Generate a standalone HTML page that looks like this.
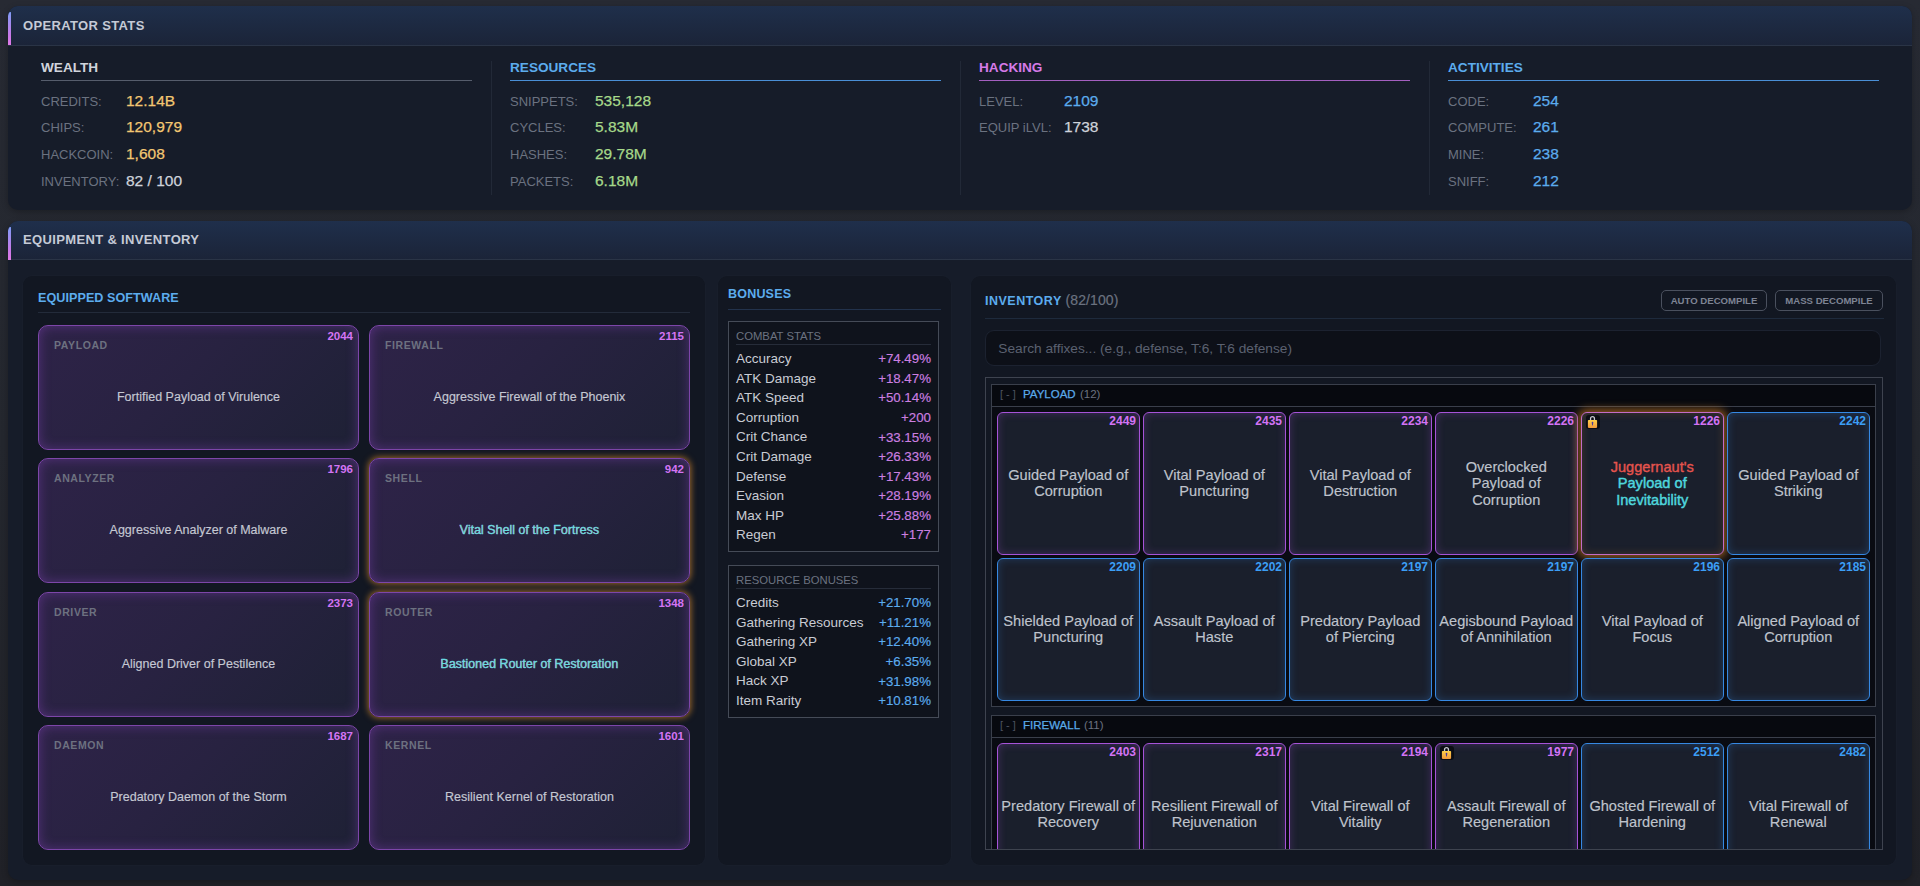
<!DOCTYPE html>
<html><head><meta charset="utf-8">
<style>
*{box-sizing:border-box;margin:0;padding:0}
html,body{width:1920px;height:886px;overflow:hidden}
body{background:linear-gradient(180deg,#272a33 0%,#24272e 50%,#202127 100%);font-family:"Liberation Sans",Arial,sans-serif;color:#c5c9d3;position:relative}
.panel{position:absolute;left:8px;width:1904px;background:#161c29;box-shadow:0 2px 6px rgba(0,0,0,0.25);border-radius:10px;overflow:hidden}
.p1{top:6px;height:204px}
.p2{top:221px;height:659px}
.ph{position:absolute;left:0;top:0;width:100%;height:39px;background:linear-gradient(180deg,#1f2f4b 0%,#1b2438 100%);border-bottom:1px solid #2a3446}
.ph .acc{position:absolute;left:0;top:6px;width:3px;height:33px;background:linear-gradient(180deg,#7f9cf5,#c879e8 70%,#e07ae8);border-radius:3px 0 0 0}
.ph .t{position:absolute;left:15px;top:11.2px;font-size:13px;font-weight:bold;letter-spacing:0.35px;color:#c5cad6;white-space:nowrap}
/* stats grid */
.sg{position:absolute;left:14px;top:39px;width:1876px;height:165px;display:flex}
.sc{width:469px;padding:0 19px;height:100%;position:relative}
.sc+.sc::before{content:"";position:absolute;left:0;top:16px;height:134px;width:1px;background:#222937}
.sc h3{position:absolute;left:19px;right:19px;top:15.3px;font-size:13.6px;font-weight:bold;height:20.5px;border-bottom:1px solid #4c5364;white-space:nowrap}
.sc .r{position:absolute;left:19px;font-size:13px;color:#6b7280;white-space:nowrap;display:flex;align-items:baseline;height:20px}
.sc .r i{font-style:normal;width:85px;display:inline-block}
.sc .r b{font-weight:normal;font-size:15.5px;letter-spacing:0px;-webkit-text-stroke:0.25px currentColor}

/* panel 2 sections */
.sec{position:absolute;top:55px;height:589px;background:#121722;border-radius:9px;box-shadow:0 0 0 1px rgba(255,255,255,0.012)}
.eq{left:15px;width:682px}
.bo{left:710px;width:233px}
.inv{left:963px;width:925px}
.stitle{position:absolute;font-size:13.5px;font-weight:bold;letter-spacing:0.8px;color:#5cacee;white-space:nowrap}
.sdiv{position:absolute;height:1px;background:#232b3a}
/* equipped cards */
.ec{position:absolute;width:321px;height:124.5px;border-radius:10px;border:1px solid #7d46a9;
 background:linear-gradient(135deg,#2e2348 0%,#282241 45%,#1e2135 100%);
 box-shadow:inset 0 0 12px rgba(155,75,215,0.36)}
.ec.gold{box-shadow:0 0 6px 1px rgba(235,150,45,0.62),inset 0 0 12px rgba(155,75,215,0.36)}
.ec .lb{position:absolute;left:15px;top:13px;font-size:10.5px;font-weight:bold;letter-spacing:0.6px;color:#6d7180}
.ec .nm{position:absolute;right:5px;top:4px;font-size:11.5px;font-weight:bold;color:#d374f4}
.ec .n{position:absolute;left:0;right:0;top:64px;text-align:center;font-size:12.5px;color:#c5c8d3;white-space:nowrap;-webkit-text-stroke:0.15px currentColor}
.ec .n.cy{color:#62dce3;-webkit-text-stroke:0.3px #62dce3;text-shadow:-0.7px 0 rgba(235,80,90,0.75)}
/* bonuses */
.bbox{position:absolute;left:10px;width:211px;border:1px solid #454b57;background:#0f131c}
.bbox .bt{position:absolute;left:7px;top:8px;font-size:11.3px;color:#6b7280;white-space:nowrap}
.bbox .bd{position:absolute;left:7px;right:7px;top:22px;height:1px;background:#262c39}
.bbox .row{position:absolute;left:7px;right:7px;height:18px;font-size:13.5px;color:#c9ccd4;white-space:nowrap}
.bbox .row span{position:absolute;right:0;top:0.2px;font-size:13.3px;-webkit-text-stroke:0.15px currentColor}
/* inventory */
.btn{position:absolute;top:14px;height:20.6px;border:1px solid #4a505e;border-radius:5px;font-size:9.6px;font-weight:bold;color:#7e8494;text-align:center;line-height:20px;white-space:nowrap}
.search{position:absolute;left:14px;top:54px;width:896px;height:36px;border-radius:9px;background:#0d1018;border:1.5px solid #1c2230}
.search span{position:absolute;left:12.3px;top:9.5px;font-size:13.7px;color:#5b6170;white-space:nowrap}
.scroll{position:absolute;left:14px;top:101px;width:898px;height:473px;border:1px solid #3e434f;overflow:hidden;background:#121722}
.grp{position:absolute;left:5px;width:885px;border:1px solid #3a3f4b;background:#090b12}
.gh{position:absolute;left:0;top:0;right:0;height:22px;background:#07090f;border-bottom:1px solid #3a3f4b;font-size:12px;white-space:nowrap}
.gh .br{position:absolute;left:8px;top:3px;color:#4d5361;font-size:11px}
.gh .gn{position:absolute;left:31px;top:3px;color:#5aa9e9;font-size:11.5px;-webkit-text-stroke:0.25px #5aa9e9}
.gh .gc{position:absolute;top:3px;color:#6b7280;font-size:11.5px}
.ic{position:absolute;width:142.5px;height:142.5px;border-radius:6px;border:1.5px solid #a653d8;background:#1a1f2c;
 box-shadow:inset 0 0 9px rgba(160,78,208,0.30)}
.ic.bl{border-color:#3688e2;box-shadow:inset 0 0 9px rgba(54,136,226,0.28)}
.ic.og{box-shadow:0 0 8px 3px rgba(225,135,35,0.6),inset 0 0 9px rgba(225,135,35,0.22);border-color:#c26cc6}
.ic .nm{position:absolute;right:2.5px;top:0.7px;font-size:12px;font-weight:bold;color:#d373f5}
.ic.bl .nm{color:#3c9ef5}
.ic .n{position:absolute;left:0;right:0;top:0;bottom:0;display:flex;align-items:center;justify-content:center;text-align:center;font-size:14.6px;line-height:16.5px;color:#bfc3cc;padding:0 1px;-webkit-text-stroke:0.15px currentColor}
.lock{position:absolute;left:3.8px;top:2.4px;width:14px;height:14px}
.p1 .ph{height:40px}
.p1 .ph .t{top:11.8px}
</style></head>
<body>
<div class="panel p1">
  <div class="ph"><div class="acc"></div><div class="t">OPERATOR STATS</div></div>
  <div class="sg">
    <div class="sc">
      <h3 style="color:#d0d4dc;border-color:#565d6c">WEALTH</h3>
      <div class="r" style="top:46.5px"><i>CREDITS:</i><b style="color:#f3c772">12.14B</b></div>
      <div class="r" style="top:72.5px"><i>CHIPS:</i><b style="color:#f3c772">120,979</b></div>
      <div class="r" style="top:99.5px"><i>HACKCOIN:</i><b style="color:#f3c772">1,608</b></div>
      <div class="r" style="top:126.5px"><i>INVENTORY:</i><b style="color:#cfd3db">82 / 100</b></div>
    </div>
    <div class="sc">
      <h3 style="color:#5cacee;border-color:#4a8fd6">RESOURCES</h3>
      <div class="r" style="top:46.5px"><i>SNIPPETS:</i><b style="color:#a6d98a">535,128</b></div>
      <div class="r" style="top:72.5px"><i>CYCLES:</i><b style="color:#a6d98a">5.83M</b></div>
      <div class="r" style="top:99.5px"><i>HASHES:</i><b style="color:#a6d98a">29.78M</b></div>
      <div class="r" style="top:126.5px"><i>PACKETS:</i><b style="color:#a6d98a">6.18M</b></div>
    </div>
    <div class="sc">
      <h3 style="color:#d67ae8;border-color:#a45fc0">HACKING</h3>
      <div class="r" style="top:46.5px"><i>LEVEL:</i><b style="color:#5cacee">2109</b></div>
      <div class="r" style="top:72.5px"><i>EQUIP iLVL:</i><b style="color:#cfd3db">1738</b></div>
    </div>
    <div class="sc">
      <h3 style="color:#5cacee;border-color:#4a8fd6">ACTIVITIES</h3>
      <div class="r" style="top:46.5px"><i>CODE:</i><b style="color:#5cacee">254</b></div>
      <div class="r" style="top:72.5px"><i>COMPUTE:</i><b style="color:#5cacee">261</b></div>
      <div class="r" style="top:99.5px"><i>MINE:</i><b style="color:#5cacee">238</b></div>
      <div class="r" style="top:126.5px"><i>SNIFF:</i><b style="color:#5cacee">212</b></div>
    </div>
  </div>
</div>

<div class="panel p2">
  <div class="ph"><div class="acc"></div><div class="t">EQUIPMENT &amp; INVENTORY</div></div>
<div class="sec eq"><div class="stitle" style="left:15px;top:14.5px;font-size:12.6px;letter-spacing:0.05px">EQUIPPED SOFTWARE</div><div class="sdiv" style="left:15px;right:15px;top:36px"></div><div class="ec" style="left:15px;top:49px"><div class="lb">PAYLOAD</div><div class="nm">2044</div><div class="n">Fortified Payload of Virulence</div></div><div class="ec" style="left:346px;top:49px"><div class="lb">FIREWALL</div><div class="nm">2115</div><div class="n">Aggressive Firewall of the Phoenix</div></div><div class="ec" style="left:15px;top:182px"><div class="lb">ANALYZER</div><div class="nm">1796</div><div class="n">Aggressive Analyzer of Malware</div></div><div class="ec gold" style="left:346px;top:182px"><div class="lb">SHELL</div><div class="nm">942</div><div class="n cy">Vital Shell of the Fortress</div></div><div class="ec" style="left:15px;top:316px"><div class="lb">DRIVER</div><div class="nm">2373</div><div class="n">Aligned Driver of Pestilence</div></div><div class="ec gold" style="left:346px;top:316px"><div class="lb">ROUTER</div><div class="nm">1348</div><div class="n cy">Bastioned Router of Restoration</div></div><div class="ec" style="left:15px;top:449px"><div class="lb">DAEMON</div><div class="nm">1687</div><div class="n">Predatory Daemon of the Storm</div></div><div class="ec" style="left:346px;top:449px"><div class="lb">KERNEL</div><div class="nm">1601</div><div class="n">Resilient Kernel of Restoration</div></div></div>
<div class="sec bo"><div class="stitle" style="left:10px;top:11px;font-size:12.5px;letter-spacing:0.2px">BONUSES</div><div class="sdiv" style="left:10px;right:10px;top:33px;background:#22324c"></div><div class="bbox" style="top:45px;height:231px"><div class="bt">COMBAT STATS</div><div class="bd"></div><div class="row" style="top:29.2px">Accuracy<span style="color:#cc7fe0">+74.49%</span></div><div class="row" style="top:48.7px">ATK Damage<span style="color:#cc7fe0">+18.47%</span></div><div class="row" style="top:68.3px">ATK Speed<span style="color:#cc7fe0">+50.14%</span></div><div class="row" style="top:87.9px">Corruption<span style="color:#cc7fe0">+200</span></div><div class="row" style="top:107.4px">Crit Chance<span style="color:#cc7fe0">+33.15%</span></div><div class="row" style="top:126.9px">Crit Damage<span style="color:#cc7fe0">+26.33%</span></div><div class="row" style="top:146.5px">Defense<span style="color:#cc7fe0">+17.43%</span></div><div class="row" style="top:166.0px">Evasion<span style="color:#cc7fe0">+28.19%</span></div><div class="row" style="top:185.6px">Max HP<span style="color:#cc7fe0">+25.88%</span></div><div class="row" style="top:205.2px">Regen<span style="color:#cc7fe0">+177</span></div></div><div class="bbox" style="top:289px;height:153px"><div class="bt">RESOURCE BONUSES</div><div class="bd"></div><div class="row" style="top:29.2px">Credits<span style="color:#5cacee">+21.70%</span></div><div class="row" style="top:48.7px">Gathering Resources<span style="color:#5cacee">+11.21%</span></div><div class="row" style="top:68.3px">Gathering XP<span style="color:#5cacee">+12.40%</span></div><div class="row" style="top:87.9px">Global XP<span style="color:#5cacee">+6.35%</span></div><div class="row" style="top:107.4px">Hack XP<span style="color:#5cacee">+31.98%</span></div><div class="row" style="top:126.9px">Item Rarity<span style="color:#5cacee">+10.81%</span></div></div></div>
<div class="sec inv"><div class="stitle" style="left:14px;top:15.6px;font-size:12.5px;letter-spacing:0.5px">INVENTORY <span style="font-weight:normal;color:#6b7280;letter-spacing:0.1px;font-size:14px;-webkit-text-stroke:0.2px #6b7280">(82/100)</span></div><div class="btn" style="left:690px;width:106px">AUTO DECOMPILE</div><div class="btn" style="left:804px;width:108px">MASS DECOMPILE</div><div class="sdiv" style="left:14px;right:12px;top:42px;background:#1e2a3c"></div><div class="search"><span>Search affixes... (e.g., defense, T:6, T:6 defense)</span></div><div class="scroll"><div class="grp" style="top:6px;height:323px"><div class="gh"><span class="br">[ - ]</span><span class="gn">PAYLOAD</span><span class="gc" style="left:88px">(12)</span></div><div class="ic" style="left:5px;top:27px"><div class="nm">2449</div><div class="n"><div>Guided Payload of Corruption</div></div></div><div class="ic" style="left:151px;top:27px"><div class="nm">2435</div><div class="n"><div>Vital Payload of Puncturing</div></div></div><div class="ic" style="left:297px;top:27px"><div class="nm">2234</div><div class="n"><div>Vital Payload of Destruction</div></div></div><div class="ic" style="left:443px;top:27px"><div class="nm">2226</div><div class="n"><div>Overclocked<br>Payload of<br>Corruption</div></div></div><div class="ic og" style="left:589px;top:27px"><div class="lock"><svg width="14" height="14" viewBox="0 0 14 14"><defs><linearGradient id="lg" x1="0" y1="0" x2="0" y2="1"><stop offset="0" stop-color="#ffd04a"/><stop offset="1" stop-color="#f39a3c"/></linearGradient></defs><rect width="14" height="14" rx="3" fill="#0b0d14"/><path d="M4.55 5.2V3.6a1.95 1.95 0 0 1 3.9 0V5.2" fill="none" stroke="#c8c9d1" stroke-width="1.3"/><rect x="1.9" y="4.9" width="9.2" height="8" rx="0.8" fill="url(#lg)"/><path d="M6.5 6.7a0.85 0.85 0 0 1 0.85 0.85L6.8 10.6h-0.6L5.65 7.55a0.85 0.85 0 0 1 0.85-0.85z" fill="#4b3b9e"/></svg></div><div class="nm">1226</div><div class="n"><div><span style="color:#e6544e;-webkit-text-stroke:0.35px #e6544e">Juggernaut's</span><br><span style="color:#4fd6de;-webkit-text-stroke:0.45px #4fd6de">Payload of<br>Inevitability</span></div></div></div><div class="ic bl" style="left:735px;top:27px"><div class="nm">2242</div><div class="n"><div>Guided Payload of Striking</div></div></div><div class="ic bl" style="left:5px;top:173px"><div class="nm">2209</div><div class="n"><div>Shielded Payload of Puncturing</div></div></div><div class="ic bl" style="left:151px;top:173px"><div class="nm">2202</div><div class="n"><div>Assault Payload of Haste</div></div></div><div class="ic bl" style="left:297px;top:173px"><div class="nm">2197</div><div class="n"><div>Predatory Payload<br>of Piercing</div></div></div><div class="ic bl" style="left:443px;top:173px"><div class="nm">2197</div><div class="n"><div>Aegisbound Payload<br>of Annihilation</div></div></div><div class="ic bl" style="left:589px;top:173px"><div class="nm">2196</div><div class="n"><div>Vital Payload of Focus</div></div></div><div class="ic bl" style="left:735px;top:173px"><div class="nm">2185</div><div class="n"><div>Aligned Payload of Corruption</div></div></div></div><div class="grp" style="top:337px;height:322px"><div class="gh"><span class="br">[ - ]</span><span class="gn">FIREWALL</span><span class="gc" style="left:92px">(11)</span></div><div class="ic" style="left:5px;top:27px"><div class="nm">2403</div><div class="n"><div>Predatory Firewall of Recovery</div></div></div><div class="ic" style="left:151px;top:27px"><div class="nm">2317</div><div class="n"><div>Resilient Firewall of Rejuvenation</div></div></div><div class="ic" style="left:297px;top:27px"><div class="nm">2194</div><div class="n"><div>Vital Firewall of Vitality</div></div></div><div class="ic" style="left:443px;top:27px"><div class="lock"><svg width="14" height="14" viewBox="0 0 14 14"><defs><linearGradient id="lg" x1="0" y1="0" x2="0" y2="1"><stop offset="0" stop-color="#ffd04a"/><stop offset="1" stop-color="#f39a3c"/></linearGradient></defs><rect width="14" height="14" rx="3" fill="#0b0d14"/><path d="M4.55 5.2V3.6a1.95 1.95 0 0 1 3.9 0V5.2" fill="none" stroke="#c8c9d1" stroke-width="1.3"/><rect x="1.9" y="4.9" width="9.2" height="8" rx="0.8" fill="url(#lg)"/><path d="M6.5 6.7a0.85 0.85 0 0 1 0.85 0.85L6.8 10.6h-0.6L5.65 7.55a0.85 0.85 0 0 1 0.85-0.85z" fill="#4b3b9e"/></svg></div><div class="nm">1977</div><div class="n"><div>Assault Firewall of Regeneration</div></div></div><div class="ic bl" style="left:589px;top:27px"><div class="nm">2512</div><div class="n"><div>Ghosted Firewall of Hardening</div></div></div><div class="ic bl" style="left:735px;top:27px"><div class="nm">2482</div><div class="n"><div>Vital Firewall of Renewal</div></div></div></div></div></div>
</div>
</body></html>
